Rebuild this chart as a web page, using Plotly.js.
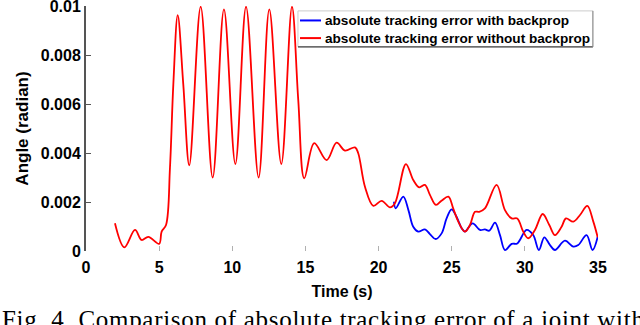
<!DOCTYPE html>
<html>
<head>
<meta charset="utf-8">
<script src="https://cdn.plot.ly/plotly-3.0.1.min.js"></script>
<style>
  html, body { margin: 0; padding: 0; background: #fff; }
  #plot { width: 640px; height: 325px; }
</style>
</head>
<body>
<div id="plot"></div>
<script>
// without backprop (red)
var timeNoBp = [1.98, 2.62, 3.35, 3.8, 4.26, 5.0, 5.17, 5.47, 5.74, 5.97, 6.27, 6.65, 7.06,
    7.84, 8.66, 9.43, 10.21, 10.94, 11.8, 12.53, 13.35, 14.08, 14.51, 14.92, 15.6, 16.45,
    17.13, 17.7, 18.39, 18.61, 19.07, 19.64, 20.21, 20.78, 21.12, 21.87, 22.37, 22.78, 23.17,
    23.51, 23.92, 24.3, 24.77, 25.1, 25.45, 25.9, 26.25, 26.59, 26.88, 27.27, 28.07, 28.64,
    29.1, 29.48, 29.89, 30.23, 30.69, 31.22, 31.67, 32.06, 32.51, 32.81, 33.31, 33.77, 34.27,
    34.68, 34.98];
var errNoBp = [0.00113, 0.00015, 0.00086, 0.00045, 0.00058, 0.00029, 0.00079, 0.00106, 0.0034,
    0.0068, 0.00963, 0.0068, 0.0035, 0.00997, 0.0030, 0.00986, 0.00355, 0.00997, 0.0030,
    0.00986, 0.00355, 0.00997, 0.00616, 0.00297, 0.0044, 0.00371, 0.00442, 0.0041, 0.00423,
    0.00399, 0.00262, 0.00184, 0.00205, 0.00178, 0.00195, 0.00355, 0.0029, 0.0026, 0.0027,
    0.00229, 0.00188, 0.00205, 0.00222, 0.00174, 0.0012, 0.00079, 0.00106, 0.0016, 0.0016,
    0.00174, 0.0027, 0.00167, 0.00133, 0.00133, 0.00079, 0.00052, 0.00086, 0.00151, 0.00106,
    0.00065, 0.00099, 0.00133, 0.0012, 0.00147, 0.00184, 0.0012, 0.00056];

// with backprop (blue), only visible after ~21 s
var timeBp = [21.05, 21.17, 21.69, 22.04, 22.37, 22.71, 23.17, 23.51, 23.9, 24.31, 24.65, 24.99,
    25.33, 25.68, 25.9, 26.43, 26.93, 27.27, 27.57, 27.96, 28.3, 28.64, 29.1, 29.48, 30.12,
    30.57, 30.96, 31.33, 31.72, 32.06, 32.74, 33.31, 33.65, 34.22, 34.63, 34.98];
var errBp = [0.00201, 0.00174, 0.00222, 0.00167, 0.00099, 0.00079, 0.00088, 0.00069, 0.00049,
    0.00072, 0.00133, 0.0017, 0.0014, 0.00093, 0.00079, 0.00113, 0.00086, 0.00088, 0.00083,
    0.00116, 0.00065, 0.00004, 0.00029, 0.00031, 0.00086, 0.00065, 0.00004, 0.00056, 0.00024,
    0.00004, 0.00042, 0.00018, 0.00024, 0.00065, 0.00004, 0.00058];

var xTicks = [0, 5, 10, 15, 20, 25, 30, 35];
var yTicks = [0, 0.002, 0.004, 0.006, 0.008, 0.01];
var yTickText = ['0', '0.002', '0.004', '0.006', '0.008', '0.01'];

var seriesNames = ['absolute tracking error with backprop', 'absolute tracking error without backprop'];
var seriesColors = ['#0000ff', '#ff0000'];

var captionText = 'Fig. 4. Comparison of absolute tracking error of a joint with';

var sans = 'Liberation Sans, Arial, sans-serif';

var traceBp = {
    type: 'scatter', mode: 'lines', x: timeBp, y: errBp,
    line: {color: seriesColors[0], width: 1.8, shape: 'spline', smoothing: 1},
    name: seriesNames[0], hoverinfo: 'none'
};
var traceNoBp = {
    type: 'scatter', mode: 'lines', x: timeNoBp, y: errNoBp,
    line: {color: seriesColors[1], width: 1.8, shape: 'spline', smoothing: 1},
    name: seriesNames[1], hoverinfo: 'none'
};

// matlab-like legend box drawn by hand (paper coords)
var legBox = {x0: 0.414, x1: 0.990, y0: 0.833, y1: 0.980};
var legRowsY = [0.941, 0.869];
var legendShapes = [
    {type: 'rect', xref: 'paper', yref: 'paper', x0: legBox.x0, x1: legBox.x1, y0: legBox.y0, y1: legBox.y1,
        fillcolor: '#ffffff', line: {color: '#cccccc', width: 1}, layer: 'above'},
    {type: 'line', xref: 'paper', yref: 'paper', x0: legBox.x0, x1: legBox.x1, y0: legBox.y0, y1: legBox.y0,
        line: {color: '#444444', width: 1.2}, layer: 'above'},
    {type: 'line', xref: 'paper', yref: 'paper', x0: legBox.x1, x1: legBox.x1, y0: legBox.y0, y1: legBox.y1,
        line: {color: '#888888', width: 1}, layer: 'above'}
];
var legendNotes = [];
seriesNames.forEach(function (name, i) {
    legendShapes.push({type: 'line', xref: 'paper', yref: 'paper', x0: 0.418, x1: 0.459,
        y0: legRowsY[i], y1: legRowsY[i], line: {color: seriesColors[i], width: 2}, layer: 'above'});
    legendNotes.push({xref: 'paper', yref: 'paper', x: 0.4625, y: legRowsY[i], xanchor: 'left', yanchor: 'middle',
        showarrow: false, text: name, font: {size: 13.6, weight: 'bold', color: '#000'}});
});

var layout = {
    width: 640,
    height: 325,
    margin: {l: 86, r: 42, t: 6, b: 74},
    paper_bgcolor: '#ffffff',
    plot_bgcolor: '#ffffff',
    font: {family: sans, color: '#000'},
    showlegend: false,
    xaxis: {
        range: [0, 35],
        tickvals: xTicks,
        ticktext: xTicks.map(String),
        showgrid: false, zeroline: false, showline: false,
        ticks: 'inside', ticklen: 5, tickcolor: '#b0b0b0',
        ticklabelstandoff: 5,
        tickfont: {size: 16, weight: 'bold'},
        title: {text: 'Time (s)', font: {size: 16, weight: 'bold'}, standoff: 10}
    },
    yaxis: {
        range: [0, 0.010001],
        tickvals: yTicks,
        ticktext: yTickText,
        ticklabeloverflow: 'allow',
        showgrid: false, zeroline: false,
        showline: true, linecolor: '#555555', linewidth: 2,
        ticks: 'inside', ticklen: 5, tickcolor: '#555555',
        tickfont: {size: 16, weight: 'bold'},
        title: {text: 'Angle (radian)', font: {size: 17, weight: 'bold'}, standoff: 8}
    },
    xaxis2: {
        overlaying: 'x', matches: 'x', side: 'top',
        tickvals: xTicks, showticklabels: false,
        showgrid: false, zeroline: false,
        showline: true, linecolor: '#dddddd', linewidth: 1,
        ticks: 'inside', ticklen: 4, tickcolor: '#888888'
    },
    yaxis2: {
        overlaying: 'y', matches: 'y', side: 'right',
        tickvals: yTicks, showticklabels: false,
        showgrid: false, zeroline: false,
        showline: true, linecolor: '#dddddd', linewidth: 1,
        ticks: 'inside', ticklen: 5, tickcolor: '#555555'
    },
    shapes: legendShapes,
    annotations: legendNotes.concat([{
        xref: 'paper', yref: 'paper', x: -0.168, y: -0.218, xanchor: 'left', yanchor: 'top',
        showarrow: false, align: 'left',
        text: '<span style="letter-spacing:0.7px">' + captionText + '</span>',
        font: {family: 'Liberation Serif, Times New Roman, serif', size: 25, color: '#000'}
    }])
};

Plotly.newPlot('plot', [traceBp, traceNoBp], layout, {displayModeBar: false, staticPlot: true});
</script>
</body>
</html>
